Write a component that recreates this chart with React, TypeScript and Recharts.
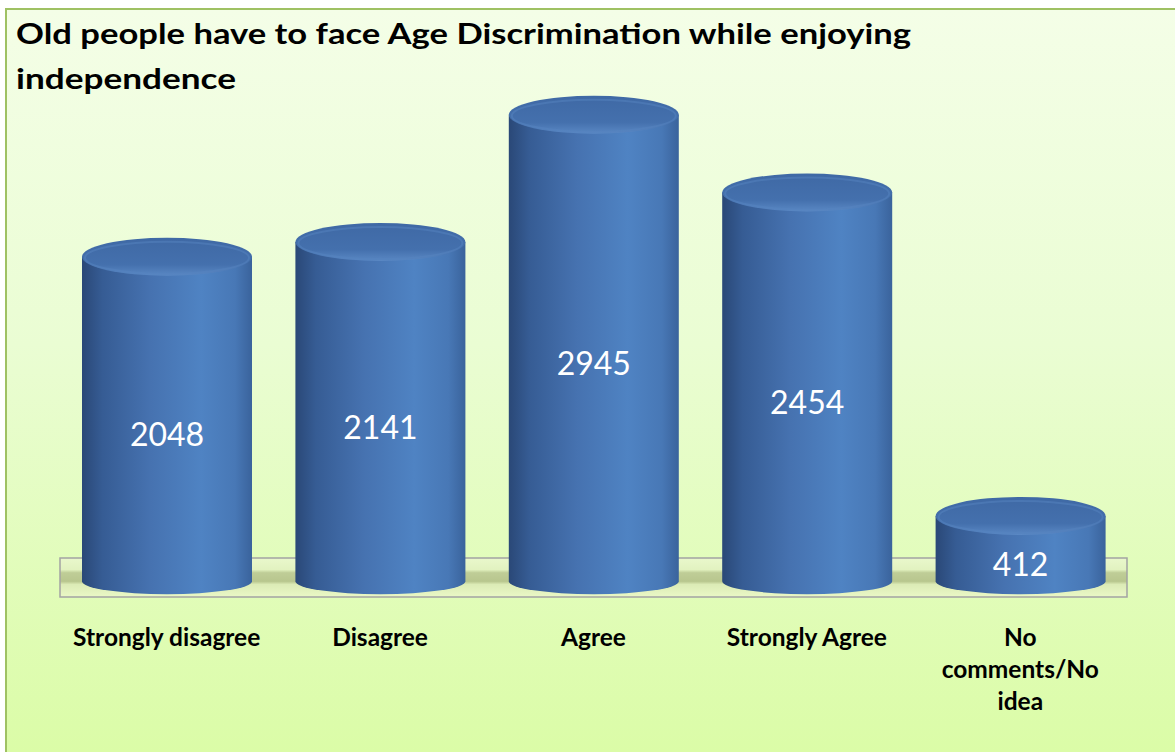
import React from "react";
import { BarChart, Bar, XAxis, YAxis, ReferenceArea } from "recharts";

const categories = ["Strongly disagree", "Disagree", "Agree", "Strongly Agree", "No comments/No idea"];
const categoryLabelLines = [["Strongly disagree"], ["Disagree"], ["Agree"], ["Strongly Agree"], ["No", "comments/No", "idea"]];
const values = [2048, 2141, 2945, 2454, 412];
const titleLines = ["Old people have to face Age Discrimination while enjoying", "independence"];

const data = categories.map((c, i) => ({ category: c, value: values[i], lines: categoryLabelLines[i] }));

const FONT = "Lato, 'Open Sans', sans-serif";

const Cylinder = (props: any) => {
  const { x, y, width, height, value } = props;
  if (width == null || height == null) return null;
  const rx = width / 2;
  const cx = x + rx;
  const ryTop = 19;
  const ryBottom = 13;
  const yb = y + height;
  const body = `M ${x} ${y} L ${x} ${yb} A ${rx} ${ryBottom} 0 0 0 ${x + width} ${yb} L ${x + width} ${y} Z`;
  const labelY = y + height / 2 + 15;
  return (
    <g>
      <path d={body} fill="url(#cylBody)" />
      <ellipse cx={cx} cy={y} rx={rx} ry={ryTop} fill="url(#cylTop)" />
      <ellipse cx={cx} cy={y + 1} rx={rx - 3} ry={ryTop - 3} fill="none" stroke="#5583bf" strokeOpacity={0.5} strokeWidth={2} />
      <text x={cx} y={labelY} textAnchor="middle" dominantBaseline="central" fill="#ffffff" fontFamily={FONT} fontSize={32}>
        {value}
      </text>
    </g>
  );
};

const CategoryTick = (props: any) => {
  const { x, y, index } = props;
  const lines = data[index] ? data[index].lines : [String(props.payload.value)];
  return (
    <g>
      {lines.map((l: string, i: number) => (
        <text key={i} x={x} y={y + 49 + i * 32} textAnchor="middle" fill="#000000" fontFamily={FONT} fontWeight={700} fontSize={24.5}>
          {l}
        </text>
      ))}
    </g>
  );
};

export default function App() {
  return (
    <div style={{ position: "fixed", left: 0, top: 0, width: 1175, height: 752, overflow: "hidden" }}>
      <svg width={0} height={0} style={{ position: "absolute" }}>
        <defs>
          <linearGradient id="cylBody" x1="0" y1="0" x2="1" y2="0">
            <stop offset="0%" stopColor="#2a4877" />
            <stop offset="12%" stopColor="#365c94" />
            <stop offset="40%" stopColor="#4672b0" />
            <stop offset="70%" stopColor="#4f83c3" />
            <stop offset="90%" stopColor="#4878b6" />
            <stop offset="100%" stopColor="#3a639c" />
          </linearGradient>
          <linearGradient id="cylTop" x1="0" y1="0" x2="0" y2="1">
            <stop offset="0%" stopColor="#3f69a5" />
            <stop offset="70%" stopColor="#4470ad" />
            <stop offset="100%" stopColor="#5a88c4" />
          </linearGradient>
          <linearGradient id="floorGrad" x1="0" y1="0" x2="0" y2="1">
            <stop offset="0%" stopColor="#e9f8cc" />
            <stop offset="30%" stopColor="#e2f2c0" />
            <stop offset="38%" stopColor="#bfcd97" />
            <stop offset="60%" stopColor="#b8c68e" />
            <stop offset="68%" stopColor="#dcebb6" />
            <stop offset="100%" stopColor="#eaf8c6" />
          </linearGradient>
        </defs>
      </svg>
      <div
        style={{
          position: "absolute",
          left: 5,
          top: 8,
          width: 1170,
          height: 744,
          boxSizing: "border-box",
          borderLeft: "2px solid #9fc163",
          borderTop: "2px solid #9fc163",
          background: "linear-gradient(180deg, #f4fee7 0%, #eafdd3 45%, #dbfca7 100%)",
        }}
      />
      <svg width={1175} height={110} style={{ position: "absolute", left: 0, top: 0 }}>
        <text x={16} y={44} textLength={895} lengthAdjust="spacingAndGlyphs" fontFamily={FONT} fontWeight={700} fontSize={29} fill="#000">
          {titleLines[0]}
        </text>
        <text x={16} y={89} textLength={220} lengthAdjust="spacingAndGlyphs" fontFamily={FONT} fontWeight={700} fontSize={29} fill="#000">
          {titleLines[1]}
        </text>
      </svg>
      <div style={{ position: "absolute", left: 0, top: 0 }}>
        <BarChart width={1175} height={752} data={data} margin={{ top: 106, right: 48, left: 60, bottom: 95 }} barSize={170}>
          <YAxis hide domain={[-100, 3000]} type="number" />
          <XAxis dataKey="category" axisLine={false} tickLine={false} tickSize={0} tickMargin={0} height={60} interval={0} tick={<CategoryTick />} />
          <ReferenceArea y1={-100} y2={147} fill="url(#floorGrad)" fillOpacity={1} stroke="#a3a3a3" strokeWidth={1.5} />
          <Bar dataKey="value" shape={<Cylinder />} isAnimationActive={false} />
        </BarChart>
      </div>
    </div>
  );
}
